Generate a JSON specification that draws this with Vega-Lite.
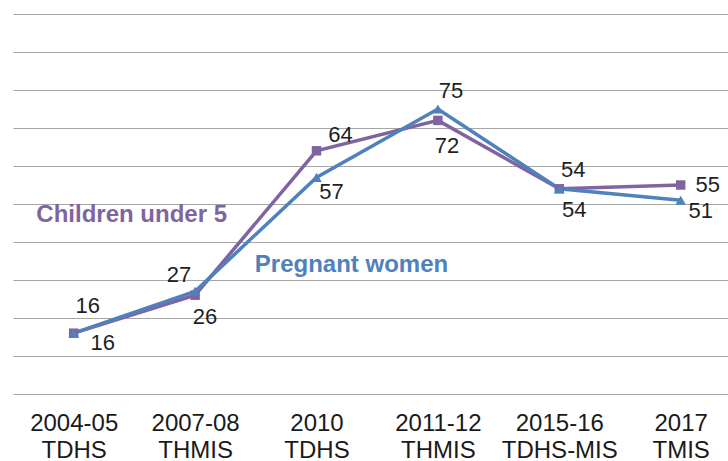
{
  "$schema": "https://vega.github.io/schema/vega-lite/v6.json",
  "width": 715,
  "height": 380,
  "autosize": "none",
  "padding": {"left": 13, "top": 14, "right": 0, "bottom": 67},
  "background": "white",
  "config": {
    "view": {"stroke": null},
    "text": {"font": "Liberation Sans", "fontSize": 22, "color": "#1f1f1f", "align": "center", "baseline": "middle"}
  },
  "datasets": {
    "main": [
      {"period": "2004-05 TDHS", "series": "Children under 5", "value": 16},
      {"period": "2007-08 THMIS", "series": "Children under 5", "value": 26},
      {"period": "2010 TDHS", "series": "Children under 5", "value": 64},
      {"period": "2011-12 THMIS", "series": "Children under 5", "value": 72},
      {"period": "2015-16 TDHS-MIS", "series": "Children under 5", "value": 54},
      {"period": "2017 TMIS", "series": "Children under 5", "value": 55},
      {"period": "2004-05 TDHS", "series": "Pregnant women", "value": 16},
      {"period": "2007-08 THMIS", "series": "Pregnant women", "value": 27},
      {"period": "2010 TDHS", "series": "Pregnant women", "value": 57},
      {"period": "2011-12 THMIS", "series": "Pregnant women", "value": 75},
      {"period": "2015-16 TDHS-MIS", "series": "Pregnant women", "value": 54},
      {"period": "2017 TMIS", "series": "Pregnant women", "value": 51}
    ],
    "annot": [
      {"period": "2004-05 TDHS", "series": "Children under 5", "value": 47},
      {"period": "2010 TDHS", "series": "Pregnant women", "value": 34}
    ]
  },
  "data": {"name": "main"},
  "encoding": {
    "x": {
      "field": "period", "type": "nominal", "sort": null,
      "scale": {"type": "point", "padding": 0.4448, "align": 0.562},
      "axis": {
        "title": null, "labelAngle": 0, "labelExpr": "split(datum.label, ' ')",
        "labelFont": "Liberation Sans", "labelFontSize": 24, "labelLineHeight": 27,
        "labelColor": "#1a1a1a", "ticks": false, "domain": false, "grid": false,
        "labelPadding": 17, "labelOverlap": false, "labelBound": false
      }
    },
    "y": {
      "field": "value", "type": "quantitative",
      "scale": {"domain": [0, 100], "nice": false, "zero": true},
      "axis": {
        "title": null, "labels": false, "ticks": false, "domain": false, "grid": true,
        "values": [0, 10, 20, 30, 40, 50, 60, 70, 80, 90, 100],
        "gridColor": "#a6a6a6", "gridWidth": 1.2
      }
    }
  },
  "layer": [
    {
      "mark": {"type": "line", "strokeWidth": 3.5},
      "encoding": {
        "color": {"field": "series", "type": "nominal", "legend": null,
          "scale": {"domain": ["Children under 5", "Pregnant women"], "range": ["#8064A2", "#4F81BD"]}}
      }
    },
    {
      "mark": {"type": "point", "filled": true, "opacity": 1},
      "encoding": {
        "color": {"field": "series", "type": "nominal", "legend": null,
          "scale": {"domain": ["Children under 5", "Pregnant women"], "range": ["#8064A2", "#4F81BD"]}},
        "shape": {"field": "series", "type": "nominal", "legend": null,
          "scale": {"domain": ["Children under 5", "Pregnant women"], "range": ["square", "triangle-up"]}},
        "size": {"field": "series", "type": "nominal", "legend": null,
          "scale": {"domain": ["Children under 5", "Pregnant women"], "range": [90, 110]}}
      }
    },
    {"transform": [{"filter": "datum.series == 'Children under 5' && datum.period == '2004-05 TDHS'"}],
     "mark": {"type": "text", "dx": 14, "dy": -27}, "encoding": {"text": {"field": "value"}}},
    {"transform": [{"filter": "datum.series == 'Children under 5' && datum.period == '2007-08 THMIS'"}],
     "mark": {"type": "text", "dx": 10, "dy": 22}, "encoding": {"text": {"field": "value"}}},
    {"transform": [{"filter": "datum.series == 'Children under 5' && datum.period == '2010 TDHS'"}],
     "mark": {"type": "text", "dx": 24, "dy": -16}, "encoding": {"text": {"field": "value"}}},
    {"transform": [{"filter": "datum.series == 'Children under 5' && datum.period == '2011-12 THMIS'"}],
     "mark": {"type": "text", "dx": 9, "dy": 26}, "encoding": {"text": {"field": "value"}}},
    {"transform": [{"filter": "datum.series == 'Children under 5' && datum.period == '2015-16 TDHS-MIS'"}],
     "mark": {"type": "text", "dx": 14, "dy": -19}, "encoding": {"text": {"field": "value"}}},
    {"transform": [{"filter": "datum.series == 'Children under 5' && datum.period == '2017 TMIS'"}],
     "mark": {"type": "text", "dx": 27, "dy": 0}, "encoding": {"text": {"field": "value"}}},
    {"transform": [{"filter": "datum.series == 'Pregnant women' && datum.period == '2004-05 TDHS'"}],
     "mark": {"type": "text", "dx": 29, "dy": 10}, "encoding": {"text": {"field": "value"}}},
    {"transform": [{"filter": "datum.series == 'Pregnant women' && datum.period == '2007-08 THMIS'"}],
     "mark": {"type": "text", "dx": -16, "dy": -16}, "encoding": {"text": {"field": "value"}}},
    {"transform": [{"filter": "datum.series == 'Pregnant women' && datum.period == '2010 TDHS'"}],
     "mark": {"type": "text", "dx": 15, "dy": 15}, "encoding": {"text": {"field": "value"}}},
    {"transform": [{"filter": "datum.series == 'Pregnant women' && datum.period == '2011-12 THMIS'"}],
     "mark": {"type": "text", "dx": 13, "dy": -18}, "encoding": {"text": {"field": "value"}}},
    {"transform": [{"filter": "datum.series == 'Pregnant women' && datum.period == '2015-16 TDHS-MIS'"}],
     "mark": {"type": "text", "dx": 15, "dy": 21}, "encoding": {"text": {"field": "value"}}},
    {"transform": [{"filter": "datum.series == 'Pregnant women' && datum.period == '2017 TMIS'"}],
     "mark": {"type": "text", "dx": 20, "dy": 11}, "encoding": {"text": {"field": "value"}}},
    {"data": {"name": "annot"},
     "transform": [{"filter": "datum.series == 'Children under 5'"}],
     "mark": {"type": "text", "dx": 58, "fontSize": 24, "fontWeight": "bold"},
     "encoding": {
       "text": {"field": "series"},
       "color": {"field": "series", "type": "nominal", "legend": null,
         "scale": {"domain": ["Children under 5", "Pregnant women"], "range": ["#8064A2", "#4F81BD"]}}
     }},
    {"data": {"name": "annot"},
     "transform": [{"filter": "datum.series == 'Pregnant women'"}],
     "mark": {"type": "text", "dx": 35, "fontSize": 24, "fontWeight": "bold"},
     "encoding": {
       "text": {"field": "series"},
       "color": {"field": "series", "type": "nominal", "legend": null,
         "scale": {"domain": ["Children under 5", "Pregnant women"], "range": ["#8064A2", "#4F81BD"]}}
     }}
  ]
}
